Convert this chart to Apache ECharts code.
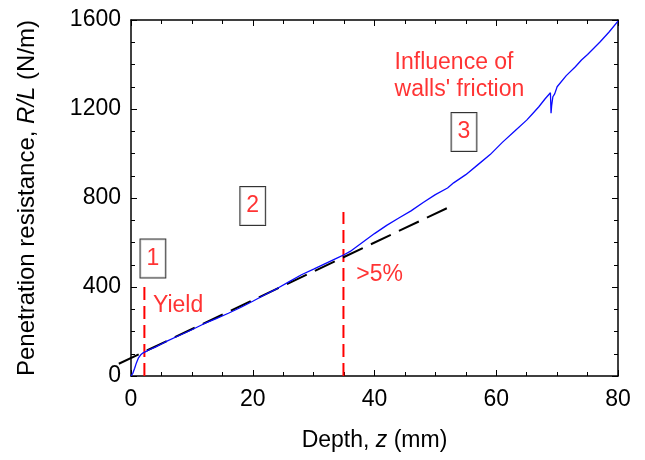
<!doctype html>
<html lang="en">
<head>
    <meta charset="UTF-8">
    <script src="https://cdn.jsdelivr.net/npm/echarts@6/dist/echarts.min.js"></script>
    <title>Penetration resistance</title>
    <style>
        html, body { margin: 0; padding: 0; background: #fff; }
    </style>
</head>
<body>
<div id="main" style="width: 645px; height: 460px"></div>
<script type="text/javascript">
    // measured curve: depth z (mm), resistance R/L (N/m)
    var depth  = [0, 0.3, 0.6, 0.9, 1.2, 1.6, 2.0, 2.5, 3, 4, 5, 6, 8, 10, 12, 14, 16, 18, 20, 22, 24, 26, 28, 30, 32, 34, 35,
                  36, 38, 40, 42, 44, 46, 48, 50, 52, 53, 55, 57, 59, 61, 63, 65, 66, 67, 68, 68.9, 69.0, 69.1, 69.3, 69.6,
                  70, 71.5, 73, 74, 75, 77, 78.5, 80];
    var resist = [0, 12, 35, 60, 80, 95, 104, 111, 118, 130, 144, 158, 183, 208, 235, 258, 282, 308, 336, 365, 393, 424, 455, 480, 506, 532, 545,
                  560, 600, 640, 677, 710, 742, 780, 815, 845, 868, 905, 950, 995, 1050, 1100, 1150, 1180, 1210, 1245, 1273, 1181, 1215, 1255, 1268,
                  1300, 1350, 1390, 1420, 1445, 1500, 1545, 1595];

    // linear fit (dashed black), starts a little left of the axis
    var fitZ = [-2, 52.5];
    var fitR = [55, 762];

    // red dashed markers: yield and >5% deviation
    var markZ = [2.2, 34.9];
    var markTop = [415, 737];

    // boxed region numbers
    var boxText = ['1', '2', '3'];
    var boxZ = [3.6, 20.0, 54.7];
    var boxR = [528, 764, 1097];

    // free annotations
    var noteText = ['Yield', '>5%', 'Influence of\nwalls\' friction'];
    var noteZ = [3.6, 37.0, 43.3];
    var noteR = [314, 454, 1348];

    var xTicks = { min: 0, max: 80, interval: 20 };
    var yTicks = { min: 0, max: 1600, interval: 400 };

    var FONT = 'Liberation Sans, Arial, Helvetica, sans-serif';

    function pairs(a, b) {
        var out = [];
        for (var i = 0; i < a.length; i++) out.push([a[i], b[i]]);
        return out;
    }

    function axisBase(t, showLabel) {
        return {
            type: 'value',
            min: t.min,
            max: t.max,
            interval: t.interval,
            axisLine: { show: true, onZero: false, lineStyle: { color: '#000', width: 1.5 } },
            axisTick: { show: true, inside: true, length: 6, lineStyle: { color: '#000', width: 1 } },
            minorTick: { show: true, splitNumber: 4, length: 4, lineStyle: { color: '#000', width: 1 } },
            splitLine: { show: false },
            minorSplitLine: { show: false },
            axisLabel: { show: showLabel, color: '#000', fontSize: 23, fontFamily: FONT, margin: 12,
                formatter: function (v) { return String(v); } }
        };
    }

    var mychart = echarts.init(document.getElementById('main'));

    var xMain = axisBase(xTicks, true);
    xMain.position = 'bottom';
    xMain.name = 'Depth, {i|z} (mm)';
    xMain.nameLocation = 'middle';
    xMain.nameGap = 53;
    xMain.nameTextStyle = { color: '#000', fontSize: 23, fontFamily: FONT,
        rich: { i: { fontStyle: 'italic', fontSize: 23, fontFamily: FONT, color: '#000' } } };
    var xTop = axisBase(xTicks, false);
    xTop.position = 'top';

    var yMain = axisBase(yTicks, true);
    yMain.position = 'left';
    yMain.axisLabel.margin = 10;
    yMain.name = 'Penetration resistance, {i|R/L} (N/m)';
    yMain.nameLocation = 'middle';
    yMain.nameGap = 92;
    yMain.nameTextStyle = { color: '#000', fontSize: 24, fontFamily: FONT,
        rich: { i: { fontStyle: 'italic', fontSize: 24, fontFamily: FONT, color: '#000' } } };
    var yRight = axisBase(yTicks, false);
    yRight.position = 'right';

    var series = [];

    // red dashed vertical markers
    for (var k = 0; k < markZ.length; k++) {
        series.push({
            type: 'line',
            data: [[markZ[k], 0], [markZ[k], markTop[k]]],
            showSymbol: false,
            silent: true,
            lineStyle: { color: '#ff0000', width: 2, type: [13, 6] },
            z: 2
        });
    }

    // dashed linear fit, drawn as a custom polyline so it may run past the y axis
    series.push({
        type: 'custom',
        silent: true,
        clip: false,
        data: [0],
        renderItem: function (params, api) {
            var pts = [];
            for (var i = 0; i < fitZ.length; i++) pts.push(api.coord([fitZ[i], fitR[i]]));
            return {
                type: 'polyline',
                shape: { points: pts },
                style: { stroke: '#000', lineWidth: 2, lineDash: [22, 9], fill: null }
            };
        },
        z: 3
    });

    // measured curve
    series.push({
        type: 'line',
        data: pairs(depth, resist),
        showSymbol: false,
        lineStyle: { color: '#0a0aff', width: 1.3 },
        z: 4
    });

    // boxed numbers
    series.push({
        type: 'scatter',
        symbolSize: 0,
        silent: true,
        data: pairs(boxZ, boxR),
        label: {
            show: true,
            position: 'inside',
            formatter: function (p) { return boxText[p.dataIndex]; },
            color: '#ff0000',
            fontSize: 23,
            fontFamily: FONT,
            lineHeight: 23,
            padding: [8, 6, 7, 6],
            borderColor: '#000',
            borderWidth: 1,
            shadowBlur: 0,
            textBorderWidth: 0,
            backgroundColor: '#fff'
        },
        z: 5
    });

    // free text notes
    series.push({
        type: 'scatter',
        symbolSize: 0,
        silent: true,
        data: pairs(noteZ, noteR),
        label: {
            show: true,
            position: 'right',
            distance: 0,
            formatter: function (p) { return noteText[p.dataIndex]; },
            color: '#ff0000',
            fontSize: 23,
            fontFamily: FONT,
            lineHeight: 27
        },
        z: 5
    });

    var option = {
        animation: false,
        backgroundColor: '#fff',
        grid: { left: 131, right: 27, top: 20, bottom: 84, containLabel: false },
        xAxis: [xMain, xTop],
        yAxis: [yMain, yRight],
        series: series
    };
    mychart.setOption(option);
</script>
</body>
</html>
